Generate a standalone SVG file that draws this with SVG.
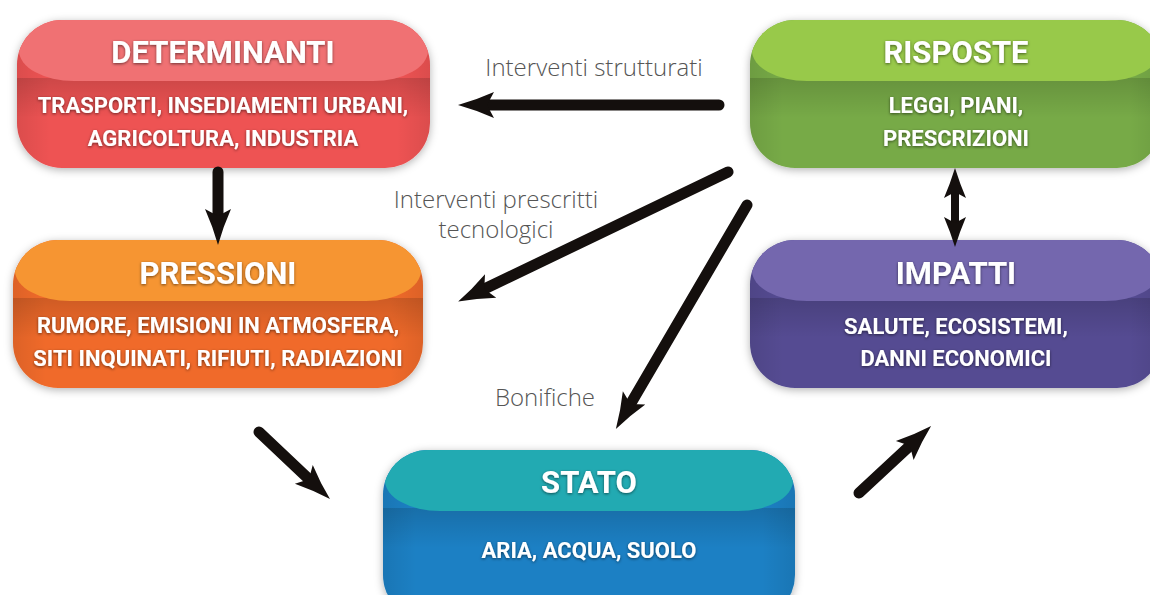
<svg xmlns="http://www.w3.org/2000/svg" width="1150" height="595" viewBox="0 0 1150 595">
<style>
.title{font-family:Roboto,"Liberation Sans",sans-serif;font-weight:700;font-size:31px;fill:#fff;text-anchor:middle;filter:url(#ts)}
.sub{font-family:Roboto,"Liberation Sans",sans-serif;font-weight:700;font-size:22px;fill:#fff;text-anchor:middle;filter:url(#ts)}
.lbl{font-family:"Open Sans","Liberation Sans",sans-serif;font-weight:300;font-size:24px;fill:#555;text-anchor:middle}
.arr{fill:none;stroke:#140f0d;stroke-width:11;stroke-linecap:round}
.band{fill:url(#bandGrad)}
</style>
<defs>
<filter id="ts" x="-10%" y="-30%" width="120%" height="160%">
<feDropShadow dx="0" dy="1" stdDeviation="1.5" flood-color="#000" flood-opacity="0.55"/>
</filter>
<filter id="bs" x="-10%" y="-20%" width="120%" height="140%">
<feDropShadow dx="0" dy="2" stdDeviation="4" flood-color="#000" flood-opacity="0.3"/>
</filter>
<linearGradient id="bandGrad" x1="0" y1="0" x2="0" y2="1">
<stop offset="0" stop-color="#000" stop-opacity="0.14"/>
<stop offset="1" stop-color="#000" stop-opacity="0"/>
</linearGradient>
<linearGradient id="sideGrad" x1="0" y1="0" x2="1" y2="0">
<stop offset="0" stop-color="#000" stop-opacity="0.08"/>
<stop offset="0.08" stop-color="#000" stop-opacity="0"/>
<stop offset="0.92" stop-color="#000" stop-opacity="0"/>
<stop offset="1" stop-color="#000" stop-opacity="0.08"/>
</linearGradient>
<marker id="head" markerUnits="userSpaceOnUse" orient="auto" refX="0" refY="0" markerWidth="60" markerHeight="40" overflow="visible">
<path d="M22,0 Q4,-5 -14,-13 L-7,0 L-14,13 Q4,5 22,0 Z" fill="#140f0d"/>
</marker>
<marker id="headS" markerUnits="userSpaceOnUse" orient="auto-start-reverse" refX="0" refY="0" markerWidth="60" markerHeight="40" overflow="visible">
<path d="M20,0 Q4,-5 -10,-11 L-4,0 L-10,11 Q4,5 20,0 Z" fill="#140f0d"/>
</marker>
<clipPath id="cDet"><rect x="17" y="20" width="413" height="148" rx="45"/></clipPath>
<clipPath id="cRis"><rect x="750" y="20" width="412" height="148" rx="45"/></clipPath>
<clipPath id="cPre"><rect x="13" y="240" width="410" height="148" rx="45"/></clipPath>
<clipPath id="cImp"><rect x="750" y="240" width="412" height="148" rx="45"/></clipPath>
<clipPath id="cSta"><rect x="383" y="450" width="412" height="170" rx="45"/></clipPath>
</defs>
<rect width="1150" height="595" fill="#fff"/>

<g id="determinanti">
<rect x="17" y="20" width="413" height="148" rx="45" fill="#ee5253" filter="url(#bs)"/>
<g clip-path="url(#cDet)">
<rect x="17" y="20" width="413" height="148" fill="url(#sideGrad)"/>
<rect x="17" y="78" width="413" height="40" class="band"/>
<rect x="19" y="20" width="409" height="61" rx="55" ry="38" fill="#f07173"/>
<rect x="19" y="14" width="409" height="26" fill="#f07173"/>
</g>
<text class="title" x="223" y="63">DETERMINANTI</text>
<text class="sub" x="223" y="113">TRASPORTI, INSEDIAMENTI URBANI,</text>
<text class="sub" x="223" y="146">AGRICOLTURA, INDUSTRIA</text>
</g>

<g id="risposte">
<rect x="750" y="20" width="412" height="148" rx="45" fill="#77aa47" filter="url(#bs)"/>
<g clip-path="url(#cRis)">
<rect x="750" y="20" width="412" height="148" fill="url(#sideGrad)"/>
<rect x="750" y="78" width="412" height="40" class="band"/>
<rect x="752" y="20" width="408" height="61" rx="55" ry="38" fill="#98c94a"/>
<rect x="752" y="14" width="408" height="26" fill="#98c94a"/>
</g>
<text class="title" x="956" y="63">RISPOSTE</text>
<text class="sub" x="956" y="113">LEGGI, PIANI,</text>
<text class="sub" x="956" y="146">PRESCRIZIONI</text>
</g>

<g id="pressioni">
<rect x="13" y="240" width="410" height="148" rx="45" fill="#f06b2b" filter="url(#bs)"/>
<g clip-path="url(#cPre)">
<rect x="13" y="240" width="410" height="148" fill="url(#sideGrad)"/>
<rect x="13" y="298" width="410" height="40" class="band"/>
<rect x="15" y="240" width="406" height="61" rx="55" ry="38" fill="#f69532"/>
<rect x="15" y="234" width="406" height="26" fill="#f69532"/>
</g>
<text class="title" x="218" y="284">PRESSIONI</text>
<text class="sub" x="218" y="333">RUMORE, EMISIONI IN ATMOSFERA,</text>
<text class="sub" x="218" y="366">SITI INQUINATI, RIFIUTI, RADIAZIONI</text>
</g>

<g id="impatti">
<rect x="750" y="240" width="412" height="148" rx="45" fill="#544c92" filter="url(#bs)"/>
<g clip-path="url(#cImp)">
<rect x="750" y="240" width="412" height="148" fill="url(#sideGrad)"/>
<rect x="750" y="298" width="412" height="40" class="band"/>
<rect x="752" y="240" width="408" height="61" rx="55" ry="38" fill="#7467ae"/>
<rect x="752" y="234" width="408" height="26" fill="#7467ae"/>
</g>
<text class="title" x="956" y="284">IMPATTI</text>
<text class="sub" x="956" y="334">SALUTE, ECOSISTEMI,</text>
<text class="sub" x="956" y="366">DANNI ECONOMICI</text>
</g>

<g id="stato">
<rect x="383" y="450" width="412" height="170" rx="45" fill="#1c80c4" filter="url(#bs)"/>
<g clip-path="url(#cSta)">
<rect x="383" y="450" width="412" height="170" fill="url(#sideGrad)"/>
<rect x="383" y="508" width="412" height="40" class="band"/>
<rect x="385" y="450" width="408" height="61" rx="55" ry="38" fill="#22aab2"/>
<rect x="385" y="444" width="408" height="26" fill="#22aab2"/>
</g>
<text class="title" x="589" y="493">STATO</text>
<text class="sub" x="589" y="558">ARIA, ACQUA, SUOLO</text>
</g>

<g id="labels">
<text class="lbl" x="594" y="76">Interventi strutturati</text>
<text class="lbl" x="496" y="208">Interventi prescritti</text>
<text class="lbl" x="496" y="238">tecnologici</text>
<text class="lbl" x="545" y="406">Bonifiche</text>
</g>

<g id="connectors">
<line class="arr" x1="719" y1="105" x2="480" y2="105" marker-end="url(#head)"/>
<line class="arr" x1="218" y1="172" x2="218" y2="223" marker-end="url(#head)"/>
<line class="arr" x1="728" y1="172" x2="478" y2="292" marker-end="url(#head)"/>
<line class="arr" x1="747" y1="205" x2="627" y2="410" marker-end="url(#head)"/>
<line class="arr" x1="259" y1="432" x2="314" y2="484" marker-end="url(#head)"/>
<line class="arr" x1="859" y1="493" x2="915" y2="441" marker-end="url(#head)"/>
<line class="arr" style="stroke-width:8" x1="955" y1="188" x2="955" y2="227" marker-start="url(#headS)" marker-end="url(#headS)"/>
</g>
</svg>
